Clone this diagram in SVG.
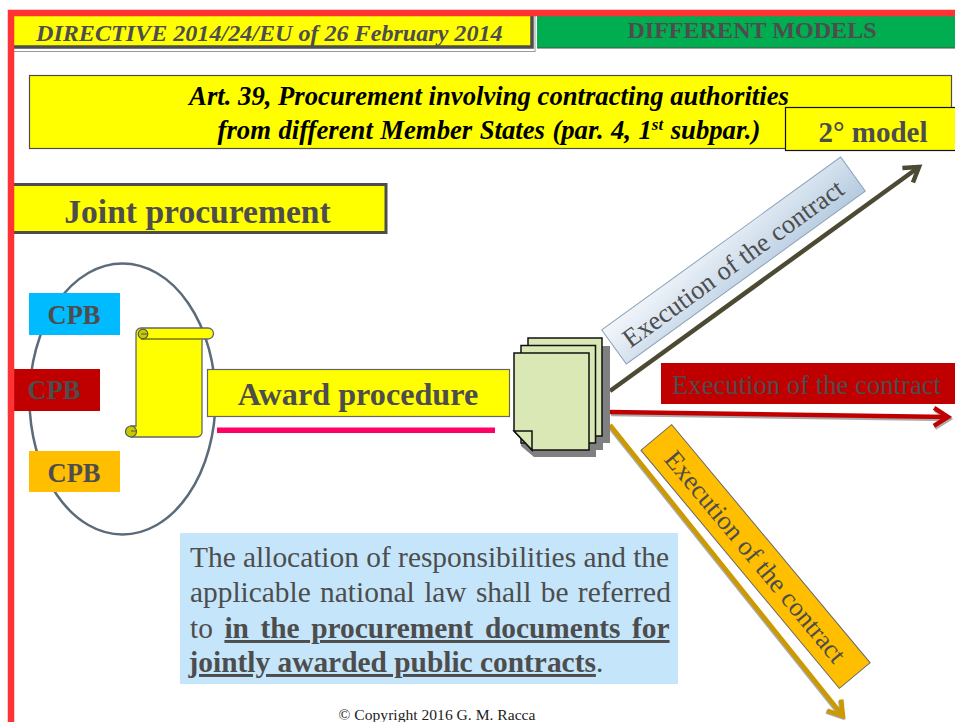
<svg xmlns="http://www.w3.org/2000/svg" width="955" height="722" viewBox="0 0 955 722">
<style>
text{font-family:"Liberation Serif","Times New Roman",serif;fill:#4d4d4d}
.b{font-weight:bold}
.m{text-anchor:middle}
.ax{fill:none;stroke-width:4.5}
.shd{fill:none;stroke:#aaa;stroke-width:4.5}
.page{fill:#d9e8b4;stroke:#111;stroke-width:1.5}
.sh{fill:#808080}
.curl{fill:#c9c900;stroke:#555;stroke-width:1.2}
</style>
<defs>
<linearGradient id="gb" gradientUnits="objectBoundingBox" x1="0" y1="0" x2="1" y2="1"><stop offset="0" stop-color="#f4f7fb"/><stop offset="1" stop-color="#b5cbe0"/></linearGradient>
<marker id="aD" markerUnits="userSpaceOnUse" markerWidth="24" markerHeight="24" refX="19" refY="12" orient="auto"><path d="M5 3L19 12L5 21" fill="none" stroke="#4d4a33" stroke-width="4.5"/></marker>
<marker id="aR" markerUnits="userSpaceOnUse" markerWidth="24" markerHeight="24" refX="19" refY="12" orient="auto"><path d="M5 3L19 12L5 21" fill="none" stroke="#c00000" stroke-width="4.5"/></marker>
<marker id="aG" markerUnits="userSpaceOnUse" markerWidth="24" markerHeight="24" refX="19" refY="12" orient="auto"><path d="M5 3L19 12L5 21" fill="none" stroke="#cc9900" stroke-width="4.5"/></marker>
<marker id="aS" markerUnits="userSpaceOnUse" markerWidth="24" markerHeight="24" refX="19" refY="12" orient="auto"><path d="M5 3L19 12L5 21" fill="none" stroke="#aaa" stroke-width="4.5"/></marker>
</defs>
<rect width="955" height="722" fill="#fff"/>
<g id="directive"><rect x="12" y="12" width="523" height="39.500" fill="#fff" stroke="#999" stroke-width="1"/><rect x="12" y="12" width="520" height="35" fill="#ffff00" stroke="#4d4d4d" stroke-width="3.500"/><text x="36" y="41" font-size="24.100" font-style="italic" class="b">DIRECTIVE 2014/24/EU of 26 February 2014</text></g>
<g id="models"><rect x="537" y="16" width="418" height="32" fill="#00ad50"/><path d="M537 48H955" stroke="#4d4d4d" stroke-width="1"/><text x="752" y="38" font-size="24.100" class="b m">DIFFERENT MODELS</text></g>
<g id="article"><rect x="29.500" y="75.500" width="922" height="73" fill="#ffff00" stroke="#4d4d4d" stroke-width="1.200"/><text x="489" y="105" font-size="26.700" font-style="italic" class="b m" style="fill:#000">Art. 39, Procurement involving contracting authorities</text><text x="489" y="139" font-size="26.700" font-style="italic" word-spacing="0.800" class="b m" style="fill:#000">from different Member States (par. 4, 1<tspan font-size="17" dy="-9">st</tspan><tspan dy="9"> subpar.)</tspan></text></g>
<g id="model2"><rect x="785.500" y="107.500" width="172" height="43" fill="#ffff00" stroke="#111" stroke-width="1.200"/><text x="873" y="142" font-size="29" class="b m">2° model</text></g>
<g id="joint"><rect x="11" y="184.500" width="375" height="48" fill="#ffff00" stroke="#4d4d4d" stroke-width="3"/><text x="197.500" y="223" font-size="33.600" class="b m">Joint procurement</text></g>
<g id="group"><ellipse cx="122.500" cy="399" rx="93" ry="135.500" fill="none" stroke="#5b6b7a" stroke-width="2.500"/></g>
<g id="cpb1"><rect x="29" y="293" width="91" height="42" fill="#00bbff"/><text x="74" y="324" font-size="26.500" class="b m">CPB</text></g>
<g id="cpb2"><rect x="14" y="369" width="86" height="42" fill="#c00000"/><text x="54" y="399" font-size="26.500" class="b m">CPB</text></g>
<g id="cpb3"><rect x="29" y="451" width="91" height="41" fill="#ffbf00"/><text x="74" y="482" font-size="26.500" class="b m">CPB</text></g>
<g id="scroll"><path d="M136 333a5 5 0 0 1 5-5H208a5.500 5.500 0 0 1 0 11H202V432a5 5 0 0 1-5 5H131V426H136Z" fill="#ffff00" stroke="#666" stroke-width="1.300"/><path d="M141 339H202" stroke="#999900" stroke-width="2"/><circle cx="143" cy="334" r="4.800" class="curl"/><path d="M141 334H147" stroke="#555" fill="none" stroke-width="1"/><circle cx="131" cy="431.500" r="5.500" class="curl"/><path d="M131 431H136" stroke="#555" fill="none" stroke-width="1"/></g>
<g id="award"><rect x="207.500" y="369.500" width="302" height="47" fill="#ffff00" stroke="#666" stroke-width="1.200"/><text x="358" y="405" font-size="32.200" class="b m">Award procedure</text></g>
<rect id="underline" x="217" y="427.500" width="278" height="5.500" fill="#ff0066"/>
<g id="connectors">
<path class="ax" d="M610 391L919 167" stroke="#4d4a33" marker-end="url(#aD)"/>
<path class="shd" d="M611 414L949 419" marker-end="url(#aS)"/>
<path class="ax" d="M610 412L948 417" stroke="#c00000" marker-end="url(#aR)"/>
<path class="shd" d="M609 426L842 717" marker-end="url(#aS)"/>
<path class="ax" d="M610 425L843 716" stroke="#cc9900" marker-end="url(#aG)"/>
</g>
<g id="documents"><path class="sh" d="M535 346H610V443H603V450H596V457H534L521 446V350H535Z"/><rect class="page" x="528" y="338" width="74" height="98"/><rect class="page" x="521" y="345.500" width="74.500" height="97.500"/><path class="page" d="M514 353H589V450H532L514 431Z"/><path class="page" d="M514 431H532V450Z"/></g>
<g id="label-blue" transform="translate(733.500 260.500) rotate(-35.900)"><rect x="-147.500" y="-21" width="295" height="42" fill="url(#gb)" stroke="#8ba3bb" stroke-width="1"/><text x="-2" y="11" font-size="26.400" class="m">Execution of the contract</text></g>
<g id="label-red"><rect x="661" y="363" width="294" height="41" fill="#c00000"/><text x="672" y="394" font-size="26.700">Execution of the contract</text></g>
<g id="label-gold" transform="translate(755.500 556.500) rotate(50.200)"><rect x="-155" y="-20" width="310" height="40" fill="#ffbf00" stroke="#666" stroke-width="1"/><text x="0" y="9" font-size="26.500" class="m">Execution of the contract</text></g>
<g id="note"><rect x="180" y="533" width="498" height="151" fill="#c5e5fb"/>
<text x="190" y="567" font-size="29.400">The allocation of responsibilities and the</text>
<text x="190" y="602" font-size="29.400" word-spacing="2">applicable national law shall be referred</text>
<text x="190" y="638" font-size="29.400" word-spacing="4.200">to <tspan class="b" text-decoration="underline">in the procurement documents for</tspan></text>
<text x="188.500" y="672" font-size="29.400"><tspan class="b" text-decoration="underline">jointly awarded public contracts</tspan>.</text></g>
<text id="copyright" x="437" y="720" font-size="15.600" class="m" style="fill:#222">© Copyright 2016 G. M. Racca</text>
<g id="frame"><path d="M955 13H11V722" fill="none" stroke="#ff3333" stroke-width="6.500"/></g>
</svg>
